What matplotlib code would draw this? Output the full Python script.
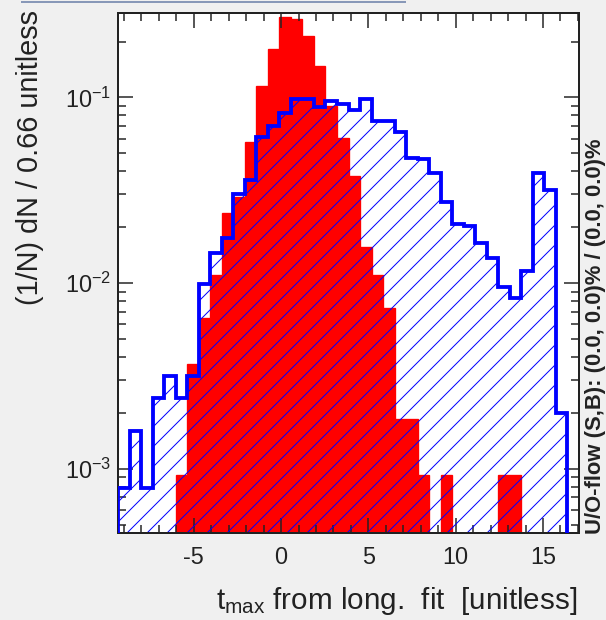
import numpy as np
import matplotlib
matplotlib.use('Agg')
import matplotlib.pyplot as plt
from matplotlib.ticker import FixedLocator, LogLocator, MultipleLocator, NullFormatter
from matplotlib.lines import Line2D

plt.rcParams['font.family'] = ['Liberation Sans', 'DejaVu Sans']
plt.rcParams['mathtext.fontset'] = 'custom'
plt.rcParams['mathtext.rm'] = 'Liberation Sans'
plt.rcParams['mathtext.it'] = 'Liberation Sans'
plt.rcParams['axes.unicode_minus'] = False
plt.rcParams['hatch.linewidth'] = 0.6

# binning (40 bins of 0.66)
x_min = -9.34
bin_width = 0.66

# normalised signal (red) and background (blue hatched), per bin
signal = [0, 0, 0, 0, 0, 0.00092, 0.00368, 0.00644, 0.0110, 0.0239,
          0.029, 0.0574, 0.115, 0.183, 0.272, 0.266, 0.214, 0.1475, 0.090, 0.0606,
          0.0377, 0.0157, 0.0110, 0.0073, 0.00184, 0.00184, 0.00092, 0, 0.00092, 0,
          0, 0, 0, 0.00092, 0.00092, 0, 0, 0, 0, 0]
background = [0.00079, 0.0016, 0.00079, 0.0024, 0.00315, 0.0024, 0.00315, 0.0099, 0.01455, 0.0175,
              0.030, 0.0361, 0.0611, 0.070, 0.082, 0.0976, 0.0976, 0.0891, 0.0955, 0.0925,
              0.086, 0.0976, 0.075, 0.075, 0.0653, 0.0473, 0.0463, 0.0393, 0.0273, 0.0207,
              0.0202, 0.0165, 0.0137, 0.00954, 0.0083, 0.0116, 0.0393, 0.0319, 0.0020, 0]

y_ticks = [1e-3, 1e-2, 1e-1]
y_ticklabels = [r'$\mathregular{10^{-3}}$', r'$\mathregular{10^{-2}}$', r'$\mathregular{10^{-1}}$']
x_ticks = [-5, 0, 5, 10, 15]

edges = x_min + bin_width * np.arange(len(signal) + 1)
floor = 1e-6

dpi = 120
W, H = 606, 620
fig = plt.figure(figsize=(W / dpi, H / dpi), dpi=dpi, facecolor='#f0f0f0')
ax = fig.add_axes([118 / W, 87 / H, 461 / W, 520 / H])
ax.set_yscale('log')

sig = np.clip(signal, floor, None)
bkg = np.clip(background, floor, None)

ax.stairs(sig, edges, baseline=floor, fill=True, facecolor='#ff0000', edgecolor='#ff0000', lw=0.8, zorder=1)
ax.stairs(bkg, edges, baseline=floor, fill=True, facecolor='none', edgecolor='#0000ff',
          hatch='//', lw=0, zorder=2)
ax.stairs(bkg, edges, baseline=floor, fill=False, color='#0000ff', lw=2.3, zorder=3)

ax.set_xlim(edges[0], edges[-1])
ax.set_ylim(4.5e-4, 0.285)

ax.xaxis.set_major_locator(FixedLocator(x_ticks))
ax.xaxis.set_minor_locator(MultipleLocator(1))
ax.yaxis.set_major_locator(FixedLocator(y_ticks))
ax.set_yticklabels(y_ticklabels)
ax.yaxis.set_minor_locator(LogLocator(base=10, subs=np.arange(2, 10)))
ax.yaxis.set_minor_formatter(NullFormatter())

ax.tick_params(which='both', direction='in', top=True, right=True, width=0.9, color='#222222')
ax.tick_params(which='major', length=9, labelsize=14, labelcolor='#222222')
ax.tick_params(axis='x', which='major', pad=8)
ax.tick_params(axis='y', which='major', pad=4)
ax.tick_params(which='minor', length=4.8)
for s in ax.spines.values():
    s.set_linewidth(1.2)
    s.set_color('#222222')

fig.text(30 / W, 1 - 10 / H, '(1/N) dN / 0.66 unitless', rotation=90,
         ha='center', va='top', fontsize=17.3, color='#222222')
fig.text(577 / W, 1 - 601 / H, r'$\mathregular{t_{max}}$ from long.  fit  [unitless]',
         ha='right', va='center', fontsize=17.8, color='#222222')
fig.text(595 / W, 1 - 534 / H, 'U/O-flow (S,B): (0.0, 0.0)% / (0.0, 0.0)%', rotation=90,
         ha='center', va='bottom', fontsize=13.2, fontweight='bold', color='#222222')

fig.add_artist(Line2D([22 / W, 405 / W], [1 - 2 / H, 1 - 2 / H], color='#8898b8', lw=1.2))

fig.savefig('out.png', dpi=dpi, facecolor=fig.get_facecolor())
